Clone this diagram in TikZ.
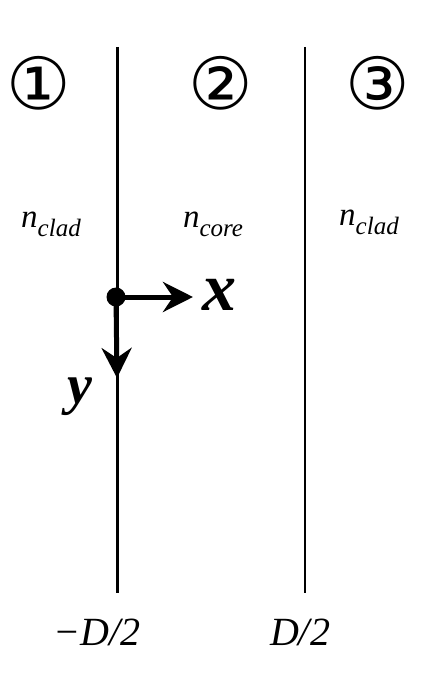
\documentclass[tikz,border=0pt]{standalone}
\usepackage{fontspec}
\setmainfont{Liberation Serif}
\newfontfamily\tmsfont{Liberation Serif}
\newfontfamily\circfont{DejaVu Sans}
\usetikzlibrary{arrows.meta}
\tikzset{
  wall/.style={draw=black},
  axis/.style={line width=5pt,-{Stealth[length=30pt,width=30pt,inset=10pt]}},
  region/.style={inner sep=0pt,font=\circfont\fontsize{72}{74}\selectfont},
  idx/.style={inner sep=0pt,font=\tmsfont\itshape\fontsize{33}{35}\selectfont},
  coord/.style={inner sep=0pt,font=\tmsfont\itshape\fontsize{40}{42}\selectfont},
  axlabel/.style={inner sep=0pt,font=\tmsfont\bfseries\itshape\fontsize{68}{70}\selectfont},
}
\newcommand{\subidx}[1]{\raisebox{-0.28em}{\tmsfont\itshape\fontsize{25}{27}\selectfont #1}}
\begin{document}
\begin{tikzpicture}[x=1pt,y=-1pt]
\useasboundingbox (0,0) rectangle (437,695);
% walls
\coordinate (lt) at (117,47);
\coordinate (lb) at (117,593);
\coordinate (rt) at (305,47);
\coordinate (rb) at (305,593);
\draw[wall,line width=3pt] (lt) -- (lb);
\draw[wall,line width=2pt] (rt) -- (rb);
% region numbers
\node[region] (r1) at (39,83) {①};
\node[region] (r2) at (221,83) {②};
\node[region] (r3) at (378,83) {③};
% indices
\node[idx] (n1) at (51,224) {n\subidx{clad}};
\node[idx] (n2) at (213,224) {n\subidx{core}};
\node[idx] (n3) at (369,222) {n\subidx{clad}};
% origin and axes
\node[circle,fill=black,inner sep=0pt,minimum size=19pt] (o) at (116,297) {};
\coordinate (xt) at (193,297);
\coordinate (yt) at (117,378);
\draw[axis] (o.center) -- (xt);
\draw[axis] (o.center) -- (yt);
\node[axlabel] (xl) at (219,295) {x};
\node[axlabel,font=\tmsfont\bfseries\itshape\fontsize{56}{58}\selectfont] (yl) at (80,397) {y};
% bottom labels
\node[coord] (lm) at (97,632) {−D/2};
\node[coord] (lp) at (300,632) {D/2};
\end{tikzpicture}
\end{document}
